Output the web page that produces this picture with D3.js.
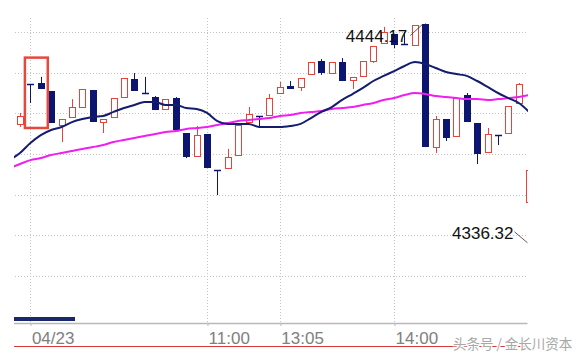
<!DOCTYPE html>
<html>
<head>
<meta charset="utf-8">
<script src="https://cdn.jsdelivr.net/npm/d3@7/dist/d3.min.js"></script>
<style>
body { margin: 0; background: #fff; }
svg { display: block; }
</style>
</head>
<body>
<div id="chart"></div>
<script>
// candles, one per bar (left to right)
var opens = [4394.8, 4414.4, 4414.9, 4411.0, 4394.3, 4398.2, 4403.1, 4411.5, 4395.7, 4398.2,
  4408.0, 4416.9, 4410.0, 4408.0, 4402.1, 4407.5, 4390.3, 4379.0, 4389.8, 4372.1,
  4373.1, 4379.5, 4395.7, 4398.7, 4399.2, 4410.0, 4413.4, 4413.0, 4419.3, 4425.7,
  4419.8, 4425.2, 4416.4, 4418.4, 4425.7, 4434.6, 4439.0, 4434.1, 4433.6, 4443.9,
  4383.4, 4397.2, 4388.9, 4409.0, 4395.2, 4381.0, 4389.3, 4390.3, 4405.1, 4356.4]
var highs = [4400.2, 4414.4, 4417.9, 4411.0, 4397.2, 4407.0, 4412.0, 4411.5, 4397.2, 4407.5,
  4417.4, 4419.8, 4417.9, 4408.5, 4407.0, 4408.0, 4390.3, 4393.8, 4389.8, 4372.1,
  4382.5, 4394.3, 4403.1, 4398.7, 4409.5, 4415.4, 4415.9, 4417.4, 4425.2, 4426.7,
  4425.2, 4427.2, 4417.9, 4425.7, 4433.1, 4442.5, 4439.0, 4440.0, 4443.4, 4444.17,
  4398.7, 4397.2, 4407.5, 4410.0, 4395.2, 4392.8, 4389.3, 4403.6, 4414.9, 4372.1]
var lows = [4393.3, 4405.1, 4412.0, 4395.2, 4385.9, 4398.2, 4403.1, 4395.7, 4390.3, 4398.2,
  4408.0, 4411.0, 4410.0, 4401.6, 4402.1, 4391.8, 4378.0, 4379.0, 4373.1, 4359.8,
  4373.1, 4379.5, 4395.7, 4392.8, 4399.2, 4410.0, 4412.0, 4411.0, 4419.3, 4418.9,
  4419.8, 4415.9, 4412.0, 4418.4, 4424.8, 4434.6, 4432.1, 4434.1, 4433.6, 4383.4,
  4380.5, 4386.4, 4388.9, 4395.7, 4375.1, 4381.0, 4384.4, 4390.3, 4405.1, 4356.4]
var closes = [4398.7, 4414.4, 4412.0, 4395.2, 4397.2, 4403.1, 4412.0, 4395.7, 4397.2, 4407.5,
  4417.4, 4411.0, 4410.0, 4401.6, 4407.0, 4391.8, 4378.5, 4389.3, 4373.1, 4372.1,
  4378.5, 4394.3, 4399.7, 4398.7, 4407.5, 4413.0, 4412.0, 4417.4, 4425.2, 4419.8,
  4425.2, 4415.9, 4417.9, 4425.7, 4433.1, 4440.0, 4433.6, 4434.1, 4443.4, 4383.4,
  4397.2, 4387.9, 4407.5, 4395.7, 4380.0, 4389.8, 4389.3, 4403.6, 4414.4, 4372.1]

// moving averages, starting one bar before the first candle
var maFast = [4377.0, 4380.5, 4385.4, 4389.3, 4391.8, 4393.3, 4395.7, 4397.2, 4398.2, 4398.7,
  4400.7, 4402.6, 4404.1, 4405.6, 4405.6, 4404.1, 4404.1, 4402.6, 4402.1, 4400.2,
  4396.2, 4394.8, 4394.8, 4394.8, 4393.3, 4393.3, 4393.3, 4393.8, 4394.8, 4397.7,
  4400.7, 4403.1, 4406.6, 4409.5, 4412.5, 4415.9, 4418.4, 4420.8, 4423.3, 4425.2,
  4424.3, 4422.3, 4420.3, 4419.3, 4418.4, 4415.9, 4413.0, 4410.0, 4407.5, 4405.1, 4400.7]
var maSlow = [4373.1, 4375.1, 4377.0, 4378.0, 4379.5, 4380.5, 4381.5, 4382.5, 4383.4, 4384.4,
  4385.9, 4386.9, 4387.9, 4388.9, 4389.8, 4390.8, 4391.3, 4392.3, 4392.8, 4393.3,
  4394.3, 4395.2, 4396.2, 4396.7, 4397.2, 4397.7, 4398.7, 4399.2, 4400.2, 4400.7,
  4401.1, 4402.1, 4402.6, 4403.1, 4404.1, 4405.1, 4406.6, 4407.5, 4409.0, 4410.0,
  4409.5, 4408.5, 4408.0, 4407.5, 4407.0, 4407.0, 4406.6, 4407.0, 4407.5, 4408.0, 4409.0]

var tickIdx = [1, 18, 25, 36]
var tickLabels = ["04/23", "11:00", "13:05", "14:00"]
var gridVals = [4440, 4420, 4400, 4380, 4360, 4340, 4320]
var hiValue = 4444.17, hiIdx = 39
var loValue = 4336.32
var boxFrom = 1, boxTo = 2, boxHi = 4427.4, boxLo = 4392.8

var W = 581, H = 355
var plotL = 14, plotR = 527.5, plotT = 0, axisY = 323

var svg = d3.select("#chart").append("svg")
    .attr("width", W)
    .attr("height", H)

var x = d3.scaleLinear().domain([0, 49]).range([20, 529.2])
var y = d3.scaleLinear().domain([4320, 4440]).range([276, 32])
var cx = function (i) { return Math.round(x(i)) }

svg.append("defs").append("clipPath").attr("id", "plotClip")
    .append("rect").attr("x", plotL).attr("y", plotT)
    .attr("width", plotR + 0.5 - plotL).attr("height", axisY - plotT)

// grid
svg.append("g").selectAll("line").data(gridVals).enter().append("line")
    .attr("x1", plotL + 1).attr("x2", plotR)
    .attr("y1", d => Math.round(y(d)) + 0.5).attr("y2", d => Math.round(y(d)) + 0.5)
    .attr("stroke", "#c4c4c4").attr("stroke-dasharray", "1,2")

svg.append("g").selectAll("line").data(tickIdx).enter().append("line")
    .attr("x1", d => cx(d) + 0.5).attr("x2", d => cx(d) + 0.5)
    .attr("y1", 18).attr("y2", axisY)
    .attr("stroke", "#c4c4c4").attr("stroke-dasharray", "1,2")

var plot = svg.append("g").attr("clip-path", "url(#plotClip)")

var bars = d3.range(opens.length).map(i => ({
    i: i, o: opens[i], h: highs[i], l: lows[i], c: closes[i]
}))
var up = "#e8433b", down = "#0c1670"

var candle = plot.append("g").selectAll("g").data(bars).enter().append("g")

candle.append("line")
    .attr("x1", d => cx(d.i) + 0.5).attr("x2", d => cx(d.i) + 0.5)
    .attr("y1", d => y(d.h)).attr("y2", d => y(d.l))
    .attr("stroke", d => d.c > d.o ? up : down)

candle.filter(d => d.c > d.o).append("rect")
    .attr("x", d => cx(d.i) - 2.5).attr("width", 6)
    .attr("y", d => Math.round(y(d.c)) + 0.5)
    .attr("height", d => Math.max(1, Math.round(y(d.o)) - Math.round(y(d.c))))
    .attr("fill", "#fff").attr("stroke", up)

candle.filter(d => d.c < d.o).append("rect")
    .attr("x", d => cx(d.i) - 3).attr("width", 7)
    .attr("y", d => Math.round(y(d.o)))
    .attr("height", d => Math.max(2, Math.round(y(d.c)) - Math.round(y(d.o))))
    .attr("fill", down)

candle.filter(d => d.c == d.o).append("line")
    .attr("x1", d => cx(d.i) - 3).attr("x2", d => cx(d.i) + 4)
    .attr("y1", d => Math.round(y(d.o)) + 0.5).attr("y2", d => Math.round(y(d.o)) + 0.5)
    .attr("stroke", down).attr("stroke-width", 1.5)

// moving averages
var line = d3.line().x((d, i) => x(i - 1)).y(d => y(d)).curve(d3.curveMonotoneX)
plot.append("path").datum(maSlow).attr("d", line)
    .attr("fill", "none").attr("stroke", "#f01ef0").attr("stroke-width", 2)
plot.append("path").datum(maFast).attr("d", line)
    .attr("fill", "none").attr("stroke", "#141c6e").attr("stroke-width", 2)

// highlight box
svg.append("rect")
    .attr("x", x(boxFrom) - 5.5).attr("y", y(boxHi))
    .attr("width", x(boxTo) - x(boxFrom) + 12.5)
    .attr("height", y(boxLo) - y(boxHi))
    .attr("fill", "none").attr("stroke", "#e8483c").attr("stroke-width", 2.5)

// high / low labels
var hx = x(hiIdx), hy = y(hiValue)
svg.append("text").text(hiValue.toFixed(2))
    .attr("x", hx - 18).attr("y", hy + 18).attr("text-anchor", "end")
    .style("font-family", "Liberation Sans, Arial, sans-serif").style("font-size", "17px")
    .attr("fill", "#111")
svg.append("line")
    .attr("x1", hx - 15).attr("y1", hy + 12).attr("x2", hx - 3).attr("y2", hy + 1)
    .attr("stroke", "#333").attr("stroke-width", 0.8)

var ly = y(loValue)
svg.append("text").text(loValue.toFixed(2))
    .attr("x", plotR - 14).attr("y", ly - 4).attr("text-anchor", "end")
    .style("font-family", "Liberation Sans, Arial, sans-serif").style("font-size", "17px")
    .attr("fill", "#111")
svg.append("line")
    .attr("x1", plotR - 13).attr("y1", ly - 11).attr("x2", plotR).attr("y2", ly)
    .attr("stroke", "#333").attr("stroke-width", 0.8)

// x axis
var axis = svg.append("g")
    .attr("transform", "translate(0," + axisY + ")")
    .call(d3.axisBottom(x).tickValues(tickIdx).tickSize(3)
        .tickFormat((d, i) => tickLabels[i]))
axis.select(".domain").remove()
axis.selectAll("line").attr("stroke", "#b8b8b8")
    .attr("transform", d => "translate(" + (cx(d) + 0.5 - x(d)) + ",0)")
axis.selectAll("text")
    .attr("text-anchor", "start").attr("x", 1).attr("y", 21).attr("dy", 0)
    .attr("fill", "#808080")
    .style("font-family", "Liberation Sans, Arial, sans-serif").style("font-size", "17px")
svg.append("line")
    .attr("x1", plotL).attr("x2", plotR).attr("y1", axisY + 0.5).attr("y2", axisY + 0.5)
    .attr("stroke", "#b8b8b8").attr("stroke-width", 1.5)

// scroll marker and bottom rule
svg.append("rect").attr("x", plotL).attr("y", 317).attr("width", 61).attr("height", 4)
    .attr("fill", "#1a2868")
svg.append("line").attr("x1", plotL).attr("x2", plotR).attr("y1", 346.5).attr("y2", 346.5)
    .attr("stroke", "#d83a3a")

// watermark
svg.append("text").text("头条号 / 金长川资本")
    .attr("x", 453).attr("y", 349)
    .style("font-family", "Noto Sans CJK SC, sans-serif").style("font-size", "13.5px")
    .attr("fill", "#a8a8a8").attr("stroke", "#fff").attr("stroke-width", 2.5)
    .attr("paint-order", "stroke")
</script>
</body>
</html>
